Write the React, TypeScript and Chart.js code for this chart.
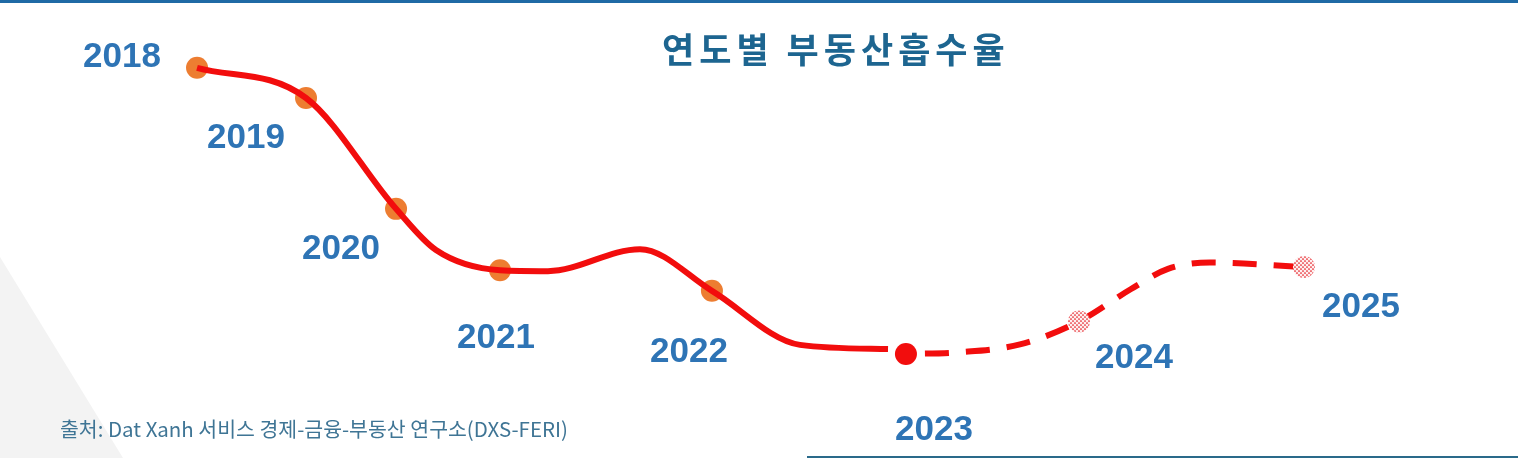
import { useEffect, useRef } from "react"
import { Chart, registerables } from "chart.js"

Chart.register(...registerables)

const years = ["2018", "2019", "2020", "2021", "2022", "2023", "2024", "2025"]
// where each year sits on the timeline (0-100) and its absorption value
const yearPos = [12.98, 20.16, 26.09, 32.94, 46.9, 59.68, 71.08, 85.9]
const absorption = [8.52, 7.86, 5.44, 4.1, 3.65, 2.27, 2.98, 4.17]

// shape of the drawn curve
const actualPos = [12.98, 20.16, 26.09, 28.72, 32.94, 36.1, 42.16, 46.9, 52.7, 58.5]
const actualVal = [8.52, 7.86, 5.44, 4.54, 4.1, 4.08, 4.56, 3.65, 2.47, 2.38]
const forecastPos = [59.68, 63.24, 67.19, 71.08, 74.51, 76.94, 79.71, 85.9]
const forecastVal = [2.27, 2.31, 2.48, 2.98, 3.69, 4.13, 4.27, 4.17]

const title = "연도별 부동산흡수율"
const source = "출처: Dat Xanh 서비스 경제-금융-부동산 연구소(DXS-FERI)"

// label placement relative to each point (px)
const labelOffsets = [
	[-75, -10],
	[-60, 40],
	[-55, 40],
	[-4, 68],
	[-23, 62],
	[28, 76],
	[55, 37],
	[57, 40],
]

const RED = "#f20d0d"
const ORANGE = "#ed7d31"

function dotPattern(ctx: CanvasRenderingContext2D) {
	const c = document.createElement("canvas")
	c.width = 4
	c.height = 4
	const p = c.getContext("2d")!
	p.fillStyle = "#fdf0f0"
	p.fillRect(0, 0, 4, 4)
	p.fillStyle = "#e5141b"
	p.beginPath()
	p.arc(1, 1, 0.85, 0, Math.PI * 2)
	p.fill()
	p.beginPath()
	p.arc(3, 3, 0.85, 0, Math.PI * 2)
	p.fill()
	return ctx.createPattern(c, "repeat")!
}

const textPlugin = {
	id: "textPlugin",
	afterDatasetsDraw(chart: Chart) {
		const ctx = chart.ctx
		const xs = chart.scales.x
		const ys = chart.scales.y
		ctx.save()
		ctx.textBaseline = "middle"

		ctx.font = "bold 35px 'Liberation Sans', Arial, sans-serif"
		ctx.fillStyle = "#2e74b5"
		ctx.textAlign = "center"
		years.forEach((yr, i) => {
			const [dx, dy] = labelOffsets[i]
			ctx.fillText(yr, xs.getPixelForValue(yearPos[i]) + dx, ys.getPixelForValue(absorption[i]) + dy)
		})

		ctx.textAlign = "left"
		ctx.font = "bold 35px 'Noto Sans CJK KR', sans-serif"
		ctx.fillStyle = "#1d6590"
		;(ctx as any).letterSpacing = "5px"
		ctx.fillText(title, 662, 50)

		ctx.font = "20.5px 'Noto Sans CJK KR', sans-serif"
		ctx.fillStyle = "#3f7595"
		;(ctx as any).letterSpacing = "0px"
		ctx.fillText(source, 60, 429)
		ctx.restore()
	},
}

export default function App() {
	const chartRef = useRef<HTMLCanvasElement>(null)
	const chartInstance = useRef<Chart | null>(null)

	useEffect(() => {
		if (!chartRef.current) return
		if (chartInstance.current) chartInstance.current.destroy()
		const ctx = chartRef.current.getContext("2d")
		if (!ctx) return
		const pattern = dotPattern(ctx)

		const pastIdx = [0, 1, 2, 3, 4]
		const nextIdx = [5, 6, 7]

		chartInstance.current = new Chart(ctx, {
			type: "line",
			data: {
				datasets: [
					{
						data: actualPos.map((x, i) => ({ x, y: actualVal[i] })),
						borderColor: RED,
						borderWidth: 6,
						pointRadius: 0,
						cubicInterpolationMode: "monotone",
						borderCapStyle: "butt",
						order: 2,
					},
					{
						data: forecastPos.map((x, i) => ({ x, y: forecastVal[i] })),
						borderColor: RED,
						borderWidth: 6,
						borderDash: [24, 17],
						borderDashOffset: 22,
						pointRadius: 0,
						cubicInterpolationMode: "monotone",
						borderCapStyle: "butt",
						order: 2,
					},
					{
						data: pastIdx.map((i) => ({ x: yearPos[i], y: absorption[i] })),
						showLine: false,
						pointRadius: 11,
						pointBorderWidth: 0,
						pointBackgroundColor: ORANGE,
						order: 3,
					},
					{
						data: nextIdx.map((i) => ({ x: yearPos[i], y: absorption[i] })),
						showLine: false,
						pointRadius: 11,
						pointBorderWidth: 0,
						pointBackgroundColor: [RED, pattern, pattern],
						order: 1,
					},
				],
			},
			options: {
				animation: false,
				responsive: true,
				maintainAspectRatio: false,
				events: [],
				layout: { padding: 0, autoPadding: false },
				plugins: {
					legend: { display: false },
					tooltip: { enabled: false },
				},
				scales: {
					x: { type: "linear", min: 0, max: 100, display: false },
					y: { type: "linear", min: 0, max: 10, display: false },
				},
			},
			plugins: [textPlugin],
		})

		return () => {
			if (chartInstance.current) {
				chartInstance.current.destroy()
				chartInstance.current = null
			}
		}
	}, [])

	return (
		<div style={{ position: "fixed", left: 0, top: 0, width: 1518, height: 458, background: "#ffffff", overflow: "hidden" }}>
			<div
				style={{
					position: "absolute",
					left: 0,
					top: 0,
					width: 140,
					height: 458,
					background: "#f3f3f3",
					clipPath: "polygon(0 257px, 123px 458px, 0 458px)",
				}}
			/>
			<div style={{ position: "absolute", left: 0, top: 0, width: 1518, height: 3, background: "#1f6aa5" }} />
			<div style={{ position: "absolute", left: 807, top: 456, width: 711, height: 2, background: "#2a6a8a" }} />
			<div style={{ position: "absolute", left: 0, top: 0, width: 1518, height: 458 }}>
				<canvas ref={chartRef}></canvas>
			</div>
		</div>
	)
}
